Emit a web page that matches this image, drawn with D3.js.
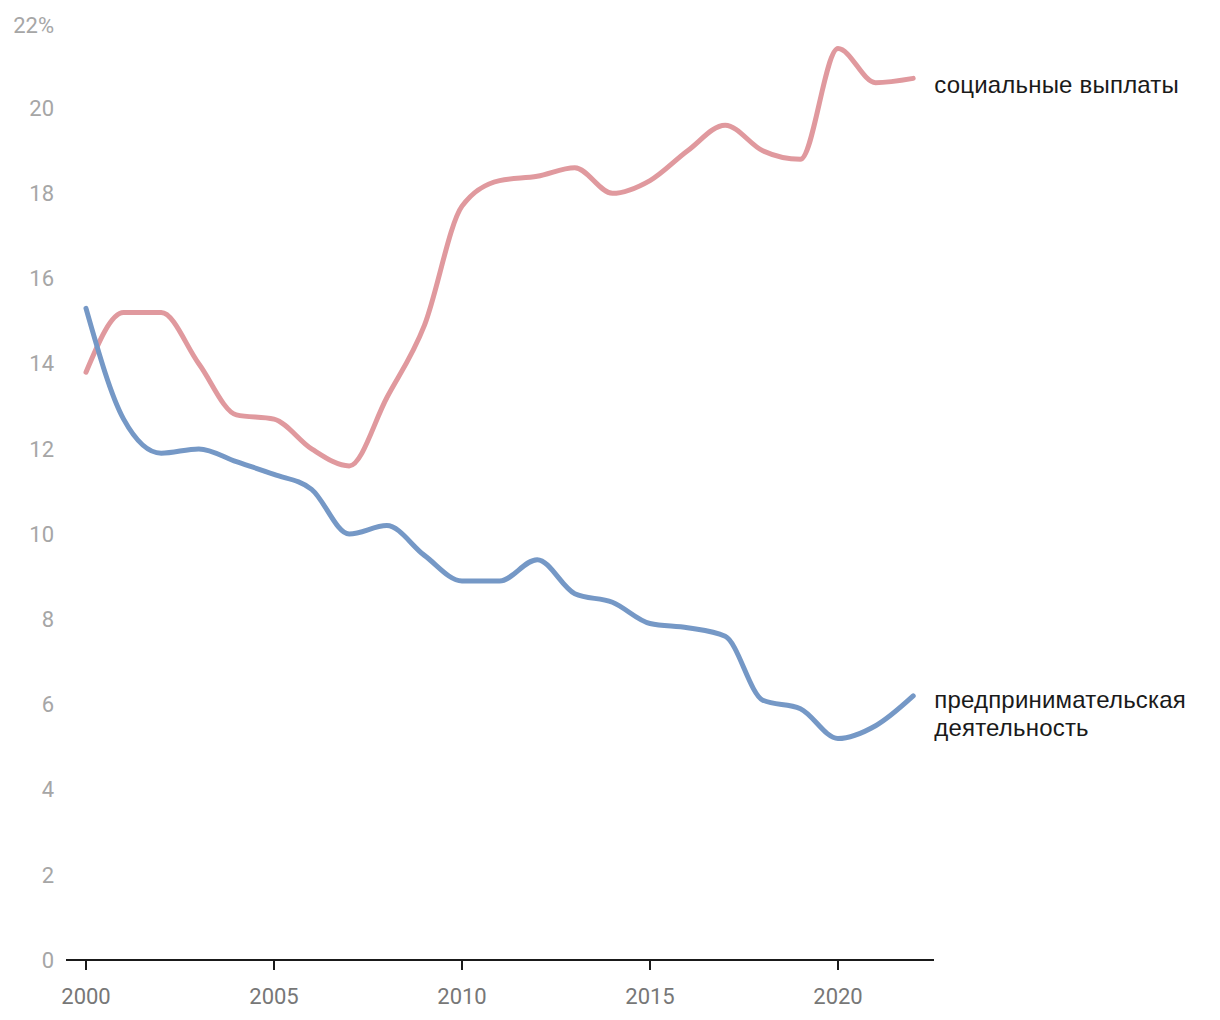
<!DOCTYPE html>
<meta charset="utf-8">
<style>
body { margin:0; background:#fff; }
.ytick text { fill:#a6a6a6; font-family:Roboto, sans-serif; font-size:22px; }
.xtick text { fill:#777; font-family:Roboto, sans-serif; font-size:22px; }
.label { fill:#1a1a1a; font-family:"Liberation Sans", Arial, sans-serif; font-size:24px; letter-spacing:0.2px; }
.line { fill:none; stroke-width:5px; stroke-linecap:round; stroke-linejoin:round; }
</style>
<body>
<script src="https://cdn.jsdelivr.net/npm/d3@7"></script>
<script>

var width = 1220,
    height = 1020;

var years = d3.range(2000, 2023);
var social = [13.8, 15.2, 15.2, 14.0, 12.8, 12.7, 12.0, 11.6, 13.2, 14.9, 17.7, 18.3,
              18.4, 18.6, 18.0, 18.3, 19.0, 19.6, 19.0, 18.8, 21.4, 20.6, 20.7];
var business = [15.3, 12.7, 11.9, 12.0, 11.7, 11.4, 11.05, 10.0, 10.2, 9.5, 8.9, 8.9,
                9.4, 8.6, 8.4, 7.9, 7.8, 7.6, 6.1, 5.9, 5.2, 5.5, 6.2];
var yTicks = [0, 2, 4, 6, 8, 10, 12, 14, 16, 18, 20, 22];
var xTicks = [2000, 2005, 2010, 2015, 2020];

var series = [
    {name: ["социальные выплаты"], values: social, color: "#e0999e"},
    {name: ["предпринимательская", "деятельность"], values: business, color: "#7598c6"}
];

var svg = d3.select("body").append("svg")
    .attr("width", width)
    .attr("height", height);

var x = d3.scaleLinear().domain([2000, 2020]).range([86, 838]);
var y = d3.scaleLinear().domain([0, 22]).range([960, 23]);

// y labels
var yg = svg.append("g").attr("class", "ytick");
yg.selectAll("text")
    .data(yTicks)
    .enter().append("text")
    .attr("x", 54)
    .attr("y", function(d){ return y(d) + (d === 22 ? 2 : 0); })
    .attr("dy", "0.35em")
    .attr("text-anchor", "end")
    .text(function(d){ return d === 22 ? "22%" : d; });

// x axis
svg.append("line")
    .attr("x1", 66).attr("x2", 934)
    .attr("y1", y(0)).attr("y2", y(0))
    .attr("stroke", "#1a1a1a").attr("stroke-width", 2);

var xg = svg.append("g").attr("class", "xtick");
var xt = xg.selectAll("g")
    .data(xTicks)
    .enter().append("g")
    .attr("transform", function(d){ return "translate(" + x(d) + "," + y(0) + ")"; });
xt.append("line").attr("y2", 10).attr("stroke", "#1a1a1a").attr("stroke-width", 2);
xt.append("text")
    .attr("y", 36)
    .attr("dy", "0.35em")
    .attr("text-anchor", "middle")
    .text(function(d){ return d; });

var line = d3.line()
    .x(function(d, i){ return x(years[i]); })
    .y(function(d){ return y(d); })
    .curve(d3.curveMonotoneX);

svg.selectAll(".line")
    .data(series)
    .enter().append("path")
    .attr("class", "line")
    .attr("stroke", function(d){ return d.color; })
    .attr("d", function(d){ return line(d.values); });

var labels = svg.selectAll(".label")
    .data(series)
    .enter().append("text")
    .attr("class", "label")
    .attr("x", x(2022) + 21)
    .attr("y", function(d, i){ return y(d.values[d.values.length - 1]) + (i === 0 ? 15 : 12); });
labels.selectAll("tspan")
    .data(function(d){ return d.name; })
    .enter().append("tspan")
    .attr("x", x(2022) + 21)
    .attr("dy", function(d, i){ return i === 0 ? 0 : 28; })
    .text(function(d){ return d; });

</script>
